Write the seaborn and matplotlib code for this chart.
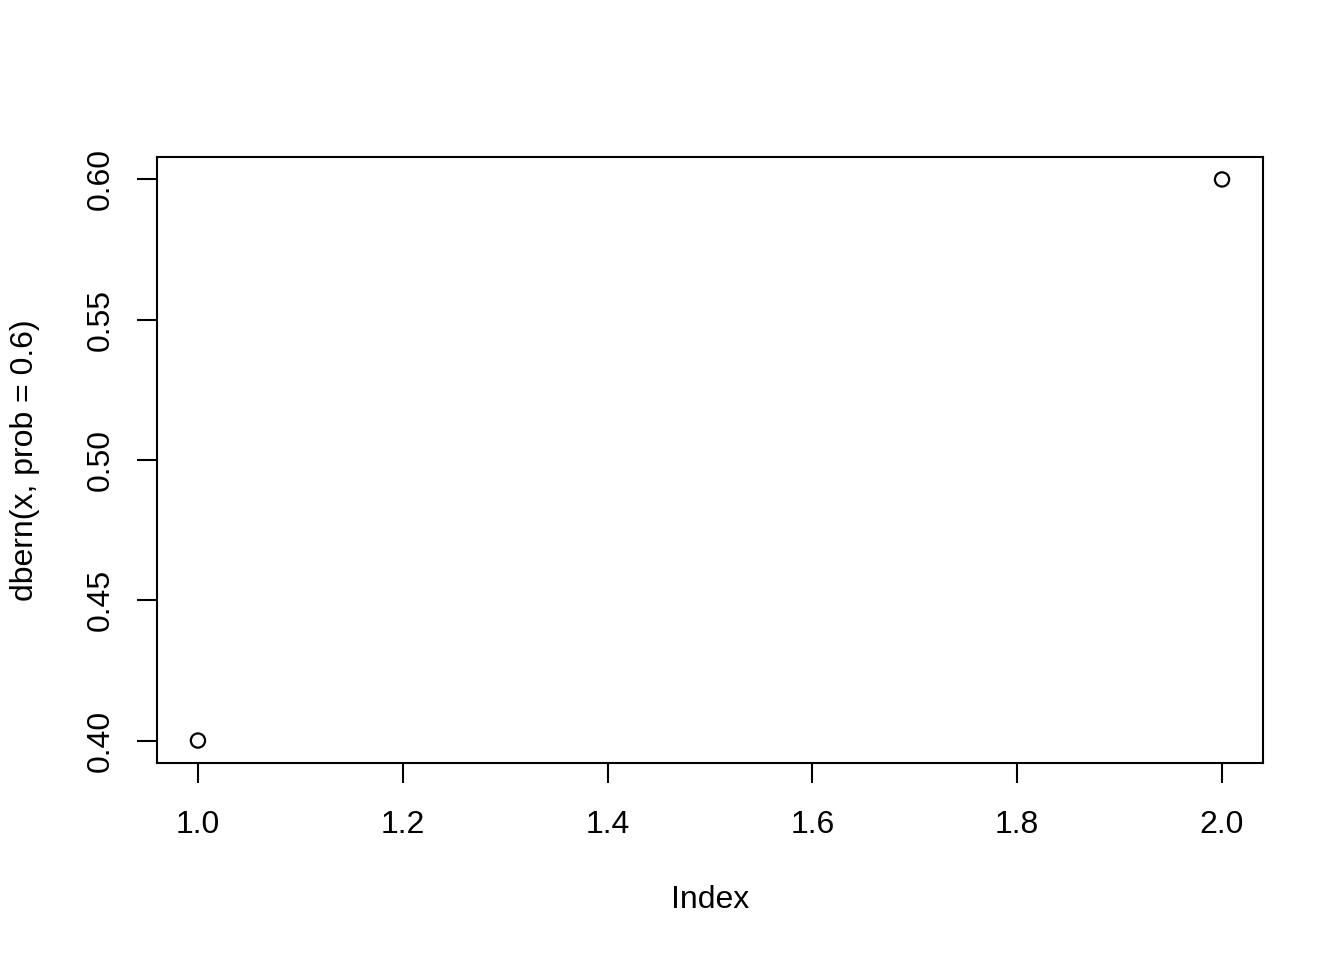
# dbern(x, prob = 0.6) point plot, R base graphics look

import numpy as np
import pandas as pd
import matplotlib
matplotlib.use("Agg")
import matplotlib.pyplot as plt
import seaborn as sns


# Data
index = [1, 2]
density = [0.4, 0.6]

x_ticks = [1.0, 1.2, 1.4, 1.6, 1.8, 2.0]
y_ticks = [0.40, 0.45, 0.50, 0.55, 0.60]

data = pd.DataFrame({"Index": index, "dbern": density})


sns.set_style("ticks")
plt.rcParams["font.family"] = ["Liberation Sans", "DejaVu Sans"]

fig = plt.figure(figsize=(13.44, 9.6), dpi=100)
ax = fig.add_axes([157 / 1344, 1 - 763 / 960, (1263 - 157) / 1344, (763 - 157) / 960])

sns.scatterplot(
    data=data,
    x="Index",
    y="dbern",
    marker="o",
    s=105,
    facecolor="none",
    edgecolor="black",
    linewidth=1.6,
    ax=ax
)

ax.set_xlim(0.96, 2.04)
ax.set_ylim(0.392, 0.608)

ax.set_xticks(x_ticks)
ax.set_xticklabels([f"{v:.1f}" for v in x_ticks])
ax.set_yticks(y_ticks)
ax.set_yticklabels([f"{v:.2f}" for v in y_ticks], rotation=90, va="center")

for side in ["left", "right", "top", "bottom"]:
    ax.spines[side].set_visible(True)
    ax.spines[side].set_linewidth(1.5)
    ax.spines[side].set_color("black")

ax.tick_params(axis="both", length=14.5, width=1.5, color="black",
               labelsize=23, labelcolor="black")
ax.tick_params(axis="x", pad=19)
ax.tick_params(axis="y", pad=15)

ax.set_xlabel("")
ax.set_ylabel("")

fig.text(710 / 1344, 1 - 900 / 960, "Index", ha="center", va="center",
         fontsize=23, color="black")
fig.text(25 / 1344, 1 - 460 / 960, "dbern(x, prob = 0.6)", ha="center", va="center",
         rotation=90, fontsize=23, color="black")

fig.savefig("out.png", dpi=100, facecolor="white")
